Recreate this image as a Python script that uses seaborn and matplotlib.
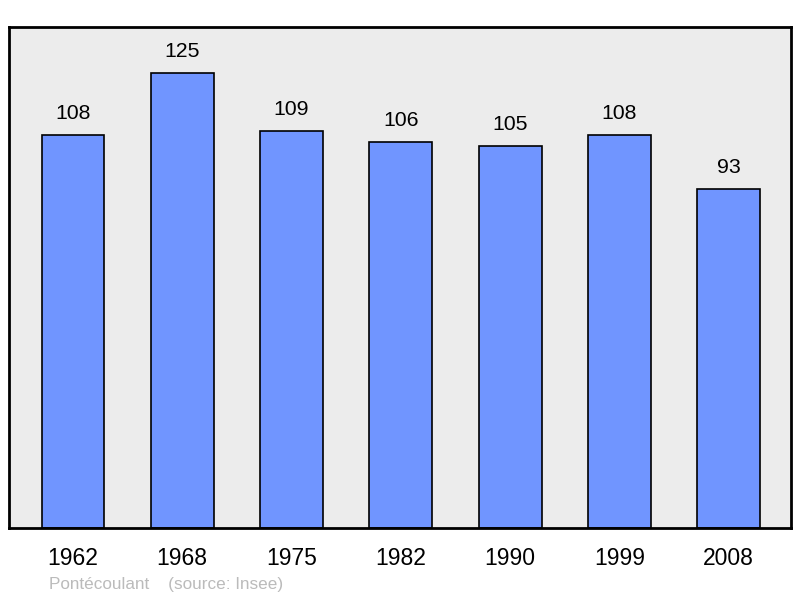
import matplotlib
matplotlib.use("Agg")
import matplotlib.pyplot as plt
import seaborn as sns
import pandas as pd

years = ["1962", "1968", "1975", "1982", "1990", "1999", "2008"]
population = [108, 125, 109, 106, 105, 108, 93]
source_text = "Pontécoulant    (source: Insee)"

sns.set_style("white")
plt.rcParams['font.family'] = ['Liberation Sans', 'DejaVu Sans']

df = pd.DataFrame({"year": years, "pop": population})

fig = plt.figure(figsize=(8, 5.98), dpi=100)
ax = fig.add_axes([9/800, 70/598, 782/800, 501/598])
ax.set_facecolor("#ececec")

sns.barplot(data=df, x="year", y="pop", ax=ax, color="#7095ff",
            saturation=1, width=0.575, edgecolor="black", linewidth=1.2)

for i, v in enumerate(population):
    ax.annotate(str(v), (i, v), xytext=(0, 15.5), textcoords="offset points",
                ha="center", va="center", fontsize=15.3, color="black")

ax.set_xlim(-0.585, 6.57)
ax.set_ylim(0, 137.6)
ax.set_yticks([])
ax.set_xlabel("")
ax.set_ylabel("")
ax.tick_params(axis="x", length=0, pad=14, labelsize=16.5, labelcolor="black")
for s in ax.spines.values():
    s.set_visible(True)
    s.set_color("black")
    s.set_linewidth(2)

fig.text(49/800, 1 - 584/598, source_text, fontsize=12.3, color="#bbbbbb",
         ha="left", va="center")

fig.savefig("out.png", dpi=100)
